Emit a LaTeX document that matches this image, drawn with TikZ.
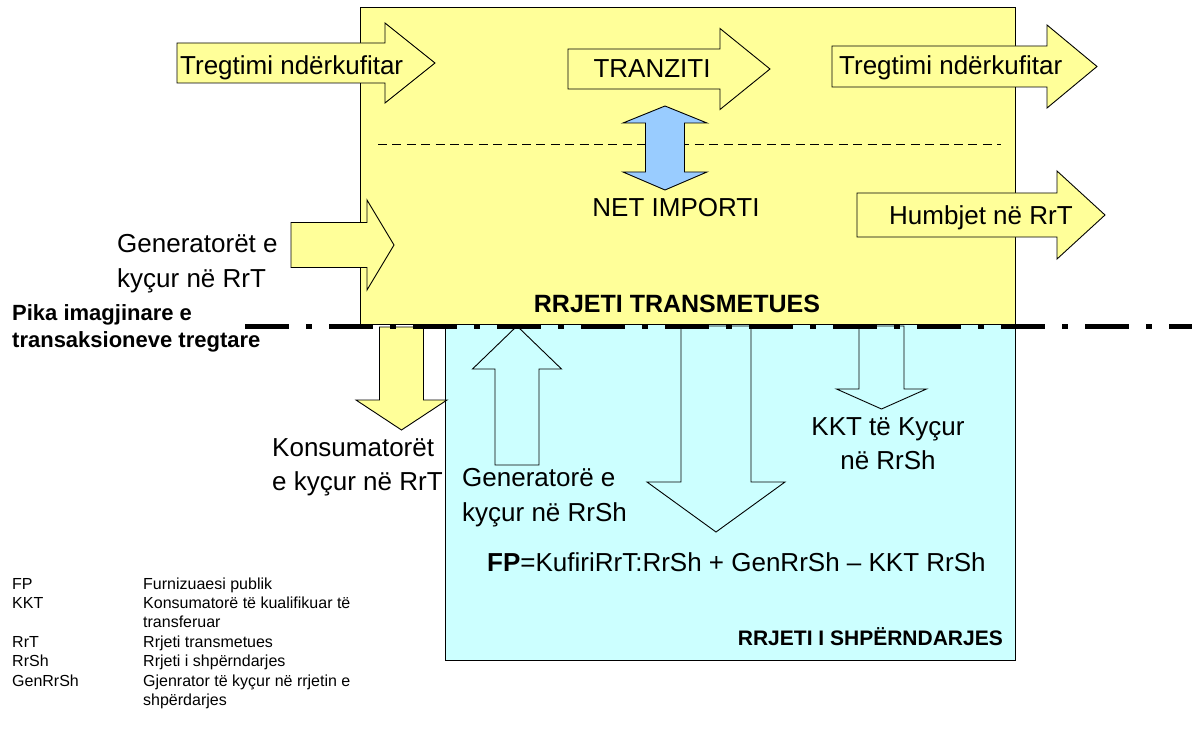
\documentclass[tikz,border=0pt]{standalone}
\usepackage{fontspec}
\setmainfont{Liberation Sans}
\definecolor{ylw}{HTML}{FFFF99}
\definecolor{cyn}{HTML}{CCFFFF}
\definecolor{blu}{HTML}{99CCFF}
\newcommand\rblock[7]{\draw[#1] ({#2},{#5-#6}) -- ({#3},{#5-#6}) -- ({#3},{#5-#7}) -- ({#4},{#5}) -- ({#3},{#5+#7}) -- ({#3},{#5+#6}) -- ({#2},{#5+#6}) -- cycle;}
\newcommand\vblock[7]{\draw[#1] ({#2-#6},{#3}) -- ({#2-#6},{#4}) -- ({#2-#7},{#4}) -- ({#2},{#5}) -- ({#2+#7},{#4}) -- ({#2+#6},{#4}) -- ({#2+#6},{#3}) -- cycle;}
\begin{document}
\begin{tikzpicture}[x=1pt,y=-1pt,
  outl/.style={draw=black,line width=0.9pt,line join=miter},
  yarrow/.style={outl,fill=ylw},
  carrow/.style={outl,fill=cyn},
  barrow/.style={outl,fill=blu},
  big/.style={font=\fontsize{26}{31}\selectfont,inner sep=0pt},
  bold/.style={font=\fontsize{21}{26}\selectfont\bfseries,inner sep=0pt},
  leg/.style={font=\fontsize{16}{19.4}\selectfont,inner sep=0pt}]
\useasboundingbox (0,0) rectangle (1192,749);
% boxes
\draw[outl,fill=ylw] (360,7) rectangle (1015,324);
\draw[outl,fill=cyn] (445,324) rectangle (1015,660);
% dashed line
\draw[line width=1pt,dash pattern=on 9pt off 5.4pt] (378,145) -- (1001,145);
% right-pointing block arrows
\rblock{yarrow}{177}{385}{435}{63}{20}{40}
\rblock{yarrow}{568}{720}{770}{69}{20}{40.5}
\rblock{yarrow}{832}{1047}{1097}{66.5}{20.5}{41.5}
\rblock{yarrow}{857}{1057}{1105}{215}{22}{44}
\rblock{yarrow}{291}{367}{394}{245}{22.5}{45}
% vertical block arrows
\vblock{yarrow}{401.5}{327}{400}{430}{22}{45.5}
\vblock{carrow}{517}{465}{369}{326}{22}{44.5}
\vblock{carrow}{716}{326}{482}{532}{35}{69}
\vblock{carrow}{881.5}{326}{389}{409}{22.5}{45}
% double arrow net import
\draw[barrow] (665,106) -- (707,123) -- (684.5,123) -- (684.5,172) -- (707,172) -- (665,190)
  -- (623,172) -- (645.5,172) -- (645.5,123) -- (623,123) -- cycle;
% dash-dot border line
\draw[line width=5pt,dash pattern=on 44pt off 17pt on 6pt off 17pt] (245,326) -- (1192,326);
% labels
\node[big,anchor=base west] (t1) at (180,75) {Tregtimi ndërkufitar};
\node[big,anchor=base] (t2) at (652,78) {TRANZITI};
\node[big,anchor=base west] (t3) at (839,75) {Tregtimi ndërkufitar};
\node[big,anchor=base] (ni) at (676,216) {NET IMPORTI};
\node[big,anchor=base west] (hu) at (889,224) {Humbjet në RrT};
\node[big,anchor=base west] (g1) at (117,252) {Generatorët e};
\node[big,anchor=base west] (g2) at (117,287) {kyçur në RrT};
\node[bold,font=\fontsize{25}{30}\selectfont\bfseries,anchor=base] (rt) at (677,312) {RRJETI TRANSMETUES};
\node[bold,font=\fontsize{22}{27}\selectfont\bfseries,anchor=base west] (p1) at (12,320) {Pika imagjinare e};
\node[bold,font=\fontsize{22}{27}\selectfont\bfseries,anchor=base west] (p2) at (12,347) {transaksioneve tregtare};
\node[big,anchor=base west] (k1) at (272,456) {Konsumatorët};
\node[big,anchor=base west] (k2) at (272,490) {e kyçur në RrT};
\node[big,anchor=base west] (r1) at (462,486) {Generatorë e};
\node[big,anchor=base west] (r2) at (462,521) {kyçur në RrSh};
\node[big,anchor=base] (q1) at (888,435) {KKT të Kyçur};
\node[big,anchor=base] (q2) at (888,469) {në RrSh};
\node[big,anchor=base west] (fp) at (487,571) {\textbf{FP}=KufiriRrT:RrSh + GenRrSh – KKT RrSh};
\node[bold,anchor=base east] (rs) at (1003,645) {RRJETI I SHPËRNDARJES};
% legend
\node[leg,anchor=base west] (l1a) at (12,589) {FP};
\node[leg,anchor=base west] (l1b) at (143,589) {Furnizuaesi publik};
\node[leg,anchor=base west] (l2a) at (12,608.4) {KKT};
\node[leg,anchor=base west] (l2b) at (143,608.4) {Konsumatorë të kualifikuar të};
\node[leg,anchor=base west] (l2c) at (143,627.8) {transferuar};
\node[leg,anchor=base west] (l3a) at (12,647.2) {RrT};
\node[leg,anchor=base west] (l3b) at (143,647.2) {Rrjeti transmetues};
\node[leg,anchor=base west] (l4a) at (12,666.6) {RrSh};
\node[leg,anchor=base west] (l4b) at (143,666.6) {Rrjeti i shpërndarjes};
\node[leg,anchor=base west] (l5a) at (12,686) {GenRrSh};
\node[leg,anchor=base west] (l5b) at (143,686) {Gjenrator të kyçur në rrjetin e};
\node[leg,anchor=base west] (l5c) at (143,705.4) {shpërdarjes};
\end{tikzpicture}
\end{document}
